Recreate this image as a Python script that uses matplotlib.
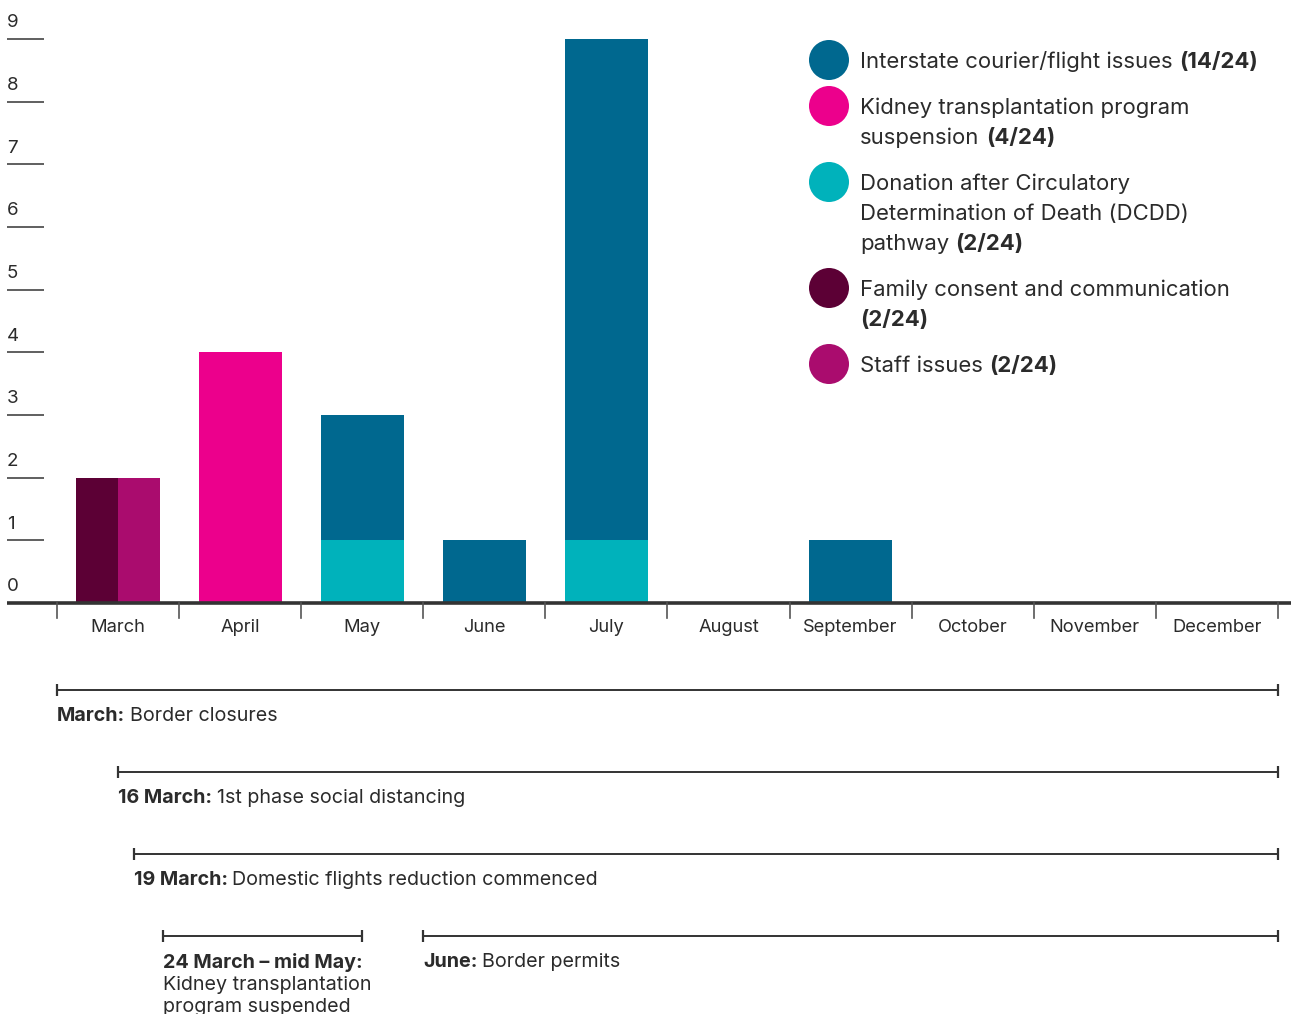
import matplotlib
matplotlib.use('Agg')
import matplotlib.pyplot as plt
from matplotlib.transforms import offset_copy

plt.rcParams['font.family'] = ['Inter', 'DejaVu Sans']

months = ['March', 'April', 'May', 'June', 'July', 'August',
          'September', 'October', 'November', 'December']
interstate = [0, 0, 2, 1, 8, 0, 1, 0, 0, 0]
kidney = [0, 4, 0, 0, 0, 0, 0, 0, 0, 0]
dcdd = [0, 0, 1, 0, 1, 0, 0, 0, 0, 0]
family = [2, 0, 0, 0, 0, 0, 0, 0, 0, 0]
staff = [2, 0, 0, 0, 0, 0, 0, 0, 0, 0]

c_blue = '#00688f'
c_pink = '#ec008c'
c_teal = '#00b2bb'
c_dark = '#5c0035'
c_staff = '#aa0c6e'
txt = '#2b2b2b'

legend_items = [
    (c_blue, ['Interstate courier/flight issues'], '(14/24)'),
    (c_pink, ['Kidney transplantation program', 'suspension'], '(4/24)'),
    (c_teal, ['Donation after Circulatory', 'Determination of Death (DCDD)', 'pathway'], '(2/24)'),
    (c_dark, ['Family consent and communication', ''], '(2/24)'),
    (c_staff, ['Staff issues'], '(2/24)'),
]

# timeline: bold label, text, start, end (in month units, 0 = middle of March)
events = [
    ('March:', 'Border closures', -0.5, 9.5, 0),
    ('16 March:', '1st phase social distancing', 0.0, 9.5, 1),
    ('19 March:', 'Domestic flights reduction commenced', 0.13, 9.5, 2),
    ('24 March \u2013 mid May:', 'Kidney transplantation\nprogram suspended', 0.37, 2.0, 3),
    ('June:', 'Border permits', 2.5, 9.5, 3),
]

W, H = 1291, 1014
xs = 122.1   # px per month
ys = 62.67   # px per count
fig = plt.figure(figsize=(W / 100, H / 100), dpi=100)
ax = fig.add_axes([0, 0, 1, 1])
ax.set_xlim(-118 / xs, (W - 118) / xs)
ax.set_ylim(-(H - 603) / ys, 603 / ys)
ax.axis('off')
r = fig.canvas.get_renderer()

x = list(range(len(months)))
bw = 0.68
ax.bar([i - bw / 4 for i in x], family, width=bw / 2, color=c_dark)
ax.bar([i + bw / 4 for i in x], staff, width=bw / 2, color=c_staff)
ax.bar(x, dcdd, width=bw, color=c_teal)
ax.bar(x, interstate, width=bw, bottom=dcdd, color=c_blue)
ax.bar(x, kidney, width=bw, color=c_pink)

# y scale: short lines with labels above
x0 = -111 / xs
x1 = -74 / xs
for v in range(1, 10):
    ax.plot([x0, x1], [v, v], color='#444444', lw=1.2, solid_capstyle='butt')
for v in range(0, 10):
    ax.text(x0, v + 0.12, str(v), fontsize=13.5, color=txt, ha='left', va='bottom')

# baseline and month ticks
ax.plot([x0, ax.get_xlim()[1]], [0, 0], color='#333333', lw=2.6, solid_capstyle='butt')
for i in range(len(months) + 1):
    ax.plot([i - 0.5, i - 0.5], [0, -15 / ys], color='#555555', lw=1.2)
for i, m in enumerate(months):
    ax.text(i, -25 / ys, m, fontsize=13.2, color=txt, ha='center', va='center')


def space_w(size, weight):
    a = ax.text(0, 0, 'a a', fontsize=size, fontweight=weight)
    b = ax.text(0, 0, 'aa', fontsize=size, fontweight=weight)
    w = a.get_window_extent(r).width - b.get_window_extent(r).width
    a.remove()
    b.remove()
    return w


def runs(xd, yd, parts, size):
    dx = 0
    for s, w in parts:
        if s == '':
            continue
        tr = offset_copy(ax.transData, fig=fig, x=dx, y=0, units='dots')
        t = ax.text(xd, yd, s, transform=tr, fontsize=size, fontweight=w,
                    color=txt, ha='left', va='center')
        dx += t.get_window_extent(r).width + space_w(size, w)


# legend
lx_c = (829 - 118) / xs
lx_t = (860 - 118) / xs
py = 60
for col, lines, frac in legend_items:
    ax.scatter([lx_c], [(603 - py) / ys], s=830, color=col, edgecolors='none')
    for k, ln in enumerate(lines):
        yy = (603 - py - 2 - 30 * k) / ys
        if k == len(lines) - 1:
            runs(lx_t, yy, [(ln, 'normal'), (frac, 'bold')], 15.9)
        else:
            runs(lx_t, yy, [(ln, 'normal')], 15.9)
    py += 30 * len(lines) + 16

# timeline
for lab, desc, s, e, row in events:
    yl = (603 - 690 - 82 * row) / ys
    ax.plot([s, e], [yl, yl], color='#333333', lw=1.4)
    ax.plot([s, e], [yl, yl], ls='none', marker='|', ms=8, mew=1.6, color='#333333')
    yt = yl - 26 / ys
    if '\n' in desc:
        runs(s, yt, [(lab, 'bold')], 14.2)
        for k, ln in enumerate(desc.split('\n')):
            runs(s, yt - 22.5 * (k + 1) / ys, [(ln, 'normal')], 14.2)
    else:
        runs(s, yt, [(lab, 'bold'), (desc, 'normal')], 14.2)

fig.savefig('out.png', dpi=100)
